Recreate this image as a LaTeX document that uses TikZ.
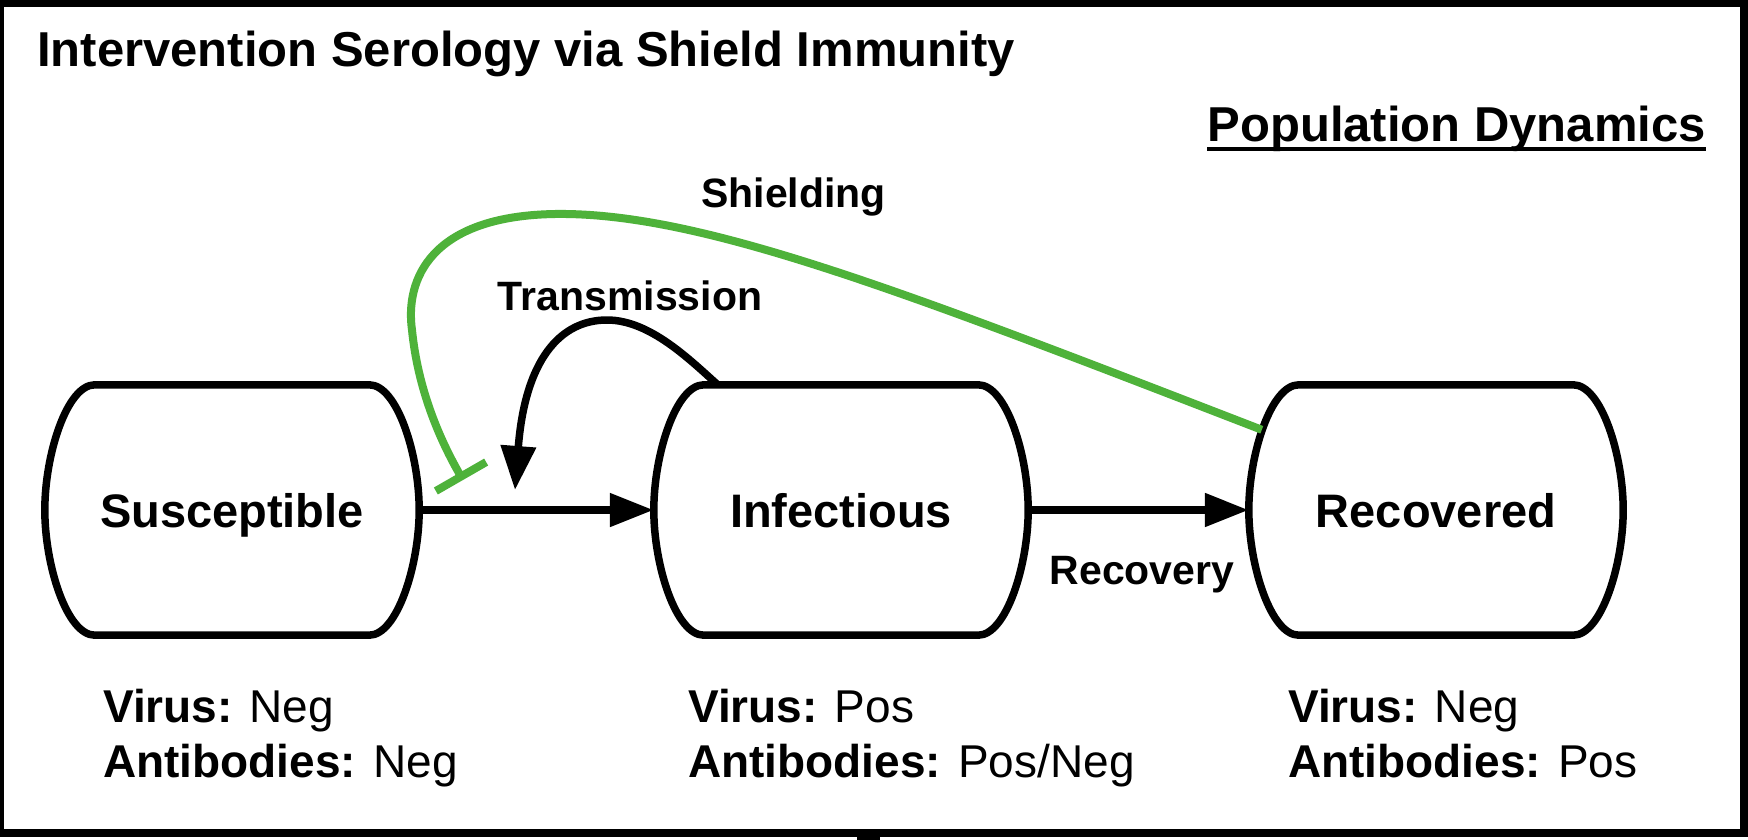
\documentclass[tikz,border=0pt]{standalone}
\usepackage{fontspec}
\setmainfont{Liberation Sans}
\usetikzlibrary{arrows.meta,calc}
\definecolor{shieldgreen}{RGB}{78,178,58}
\tikzset{
  statebox/.style={minimum width=374pt, minimum height=250pt, inner sep=0pt,
    text height=34pt, text depth=0pt, font=\fontsize{47}{56}\selectfont\bfseries},
  outline/.style={line width=7.5pt, line join=round},
  flow/.style={line width=8pt, -{Triangle[length=44pt,width=32pt]}},
  transarrow/.style={line width=7.5pt, -{Triangle[length=44pt,width=34pt]}},
  shield/.style={draw=shieldgreen, line width=8pt, -{Bar[width=58pt]}},
  edgelabel/.style={font=\fontsize{41}{49}\selectfont\bfseries, inner sep=0pt},
  info/.style={font=\fontsize{46}{55}\selectfont, inner sep=0pt, anchor=base west},
  headline/.style={font=\fontsize{49}{59}\selectfont\bfseries, inner sep=0pt},
}
\newcommand\blobline[1]{%
  \draw[outline] ($(#1.north west)+(50,0)$) -- ($(#1.north east)+(-50,0)$)
   .. controls ($(#1.north east)+(-22,0)$) and ($(#1.east)+(0,-55)$) .. (#1.east)
   .. controls ($(#1.east)+(0,55)$) and ($(#1.south east)+(-22,0)$) .. ($(#1.south east)+(-50,0)$)
   -- ($(#1.south west)+(50,0)$)
   .. controls ($(#1.south west)+(22,0)$) and ($(#1.west)+(0,55)$) .. (#1.west)
   .. controls ($(#1.west)+(0,-55)$) and ($(#1.north west)+(22,0)$) .. cycle;}
\begin{document}
\begin{tikzpicture}[x=1pt,y=-1pt]
\useasboundingbox (0,0) rectangle (1748,840);
% frame
\fill[black] (0,0) rectangle (1748,837);
\fill[white] (4,7) rectangle (1740,829);
\fill[black] (857,837) rectangle (880,840);
% headings
\node[headline, anchor=base west] (title) at (37,67) {Intervention Serology via Shield Immunity};
\node[headline, anchor=base east] (pd) at (1706,142) {Population Dynamics};
\draw[line width=3.5pt] ($(pd.base west)+(0,7)$) -- ($(pd.base east)+(0,7)$);
% states
\node[statebox] (S) at (232,510) {Susceptible};
\node[statebox] (I) at (841,510) {Infectious};
\node[statebox] (R) at (1436,510) {Recovered};
\blobline{S}
\blobline{I}
\blobline{R}
% flows
\draw[flow] (S.east) -- (I.west);
\draw[flow] (I.east) -- (R.west);
\node[edgelabel, anchor=base] (rl) at (1142,584) {Recovery};
% transmission
\coordinate (tx) at (515,490);
\draw[transarrow] ($(I.north west)+(64,0)$) .. controls (690,360) and (650,320) .. (607,320)
   .. controls (560,320) and (525,360) .. (tx);
\node[edgelabel, anchor=base] (tl) at (630,310) {Transmission};
% shielding
\coordinate (rA) at ($(R.north west)+(13,45)$);
\coordinate (sh) at (463,480);
\draw[shield] (rA) .. controls (900,290) and (700,212) .. (555,214)
   .. controls (430,216) and (405,280) .. (412,330)
   .. controls (418,390) and (440,440) .. (sh);
\node[edgelabel, anchor=base west] (sl) at (701,207) {Shielding};
% info
\node[info] (sv) at (103,722) {\textbf{Virus:} Neg};
\node[info] (sa) at (103,777) {\textbf{Antibodies:} Neg};
\node[info] (iv) at (688,722) {\textbf{Virus:} Pos};
\node[info] (ia) at (688,777) {\textbf{Antibodies:} Pos/Neg};
\node[info] (rv) at (1288,722) {\textbf{Virus:} Neg};
\node[info] (ra) at (1288,777) {\textbf{Antibodies:} Pos};
\end{tikzpicture}
\end{document}
